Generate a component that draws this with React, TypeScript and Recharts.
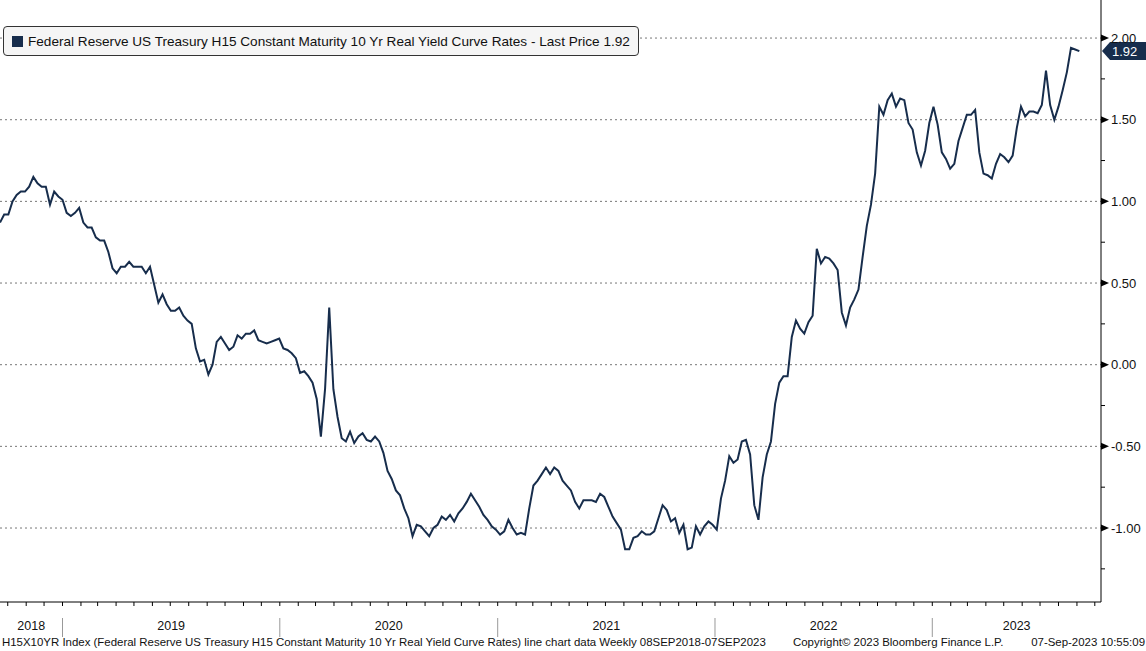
import { LineChart, Line, XAxis, YAxis, CartesianGrid, ReferenceLine, Legend } from "recharts";

// weekly observations, first point ~18 Sep 2018, last 07 Sep 2023
const START_DATE = Date.UTC(2018, 8, 18);
const WEEK_MS = 7 * 24 * 3600 * 1000;
const X_MAX = 264.2;

const yieldValues = [
  0.87, 0.92, 0.92, 1.0, 1.04, 1.06, 1.06, 1.09, 1.15, 1.11,
  1.09, 1.09, 0.98, 1.06, 1.03, 1.01, 0.93, 0.91, 0.93, 0.96,
  0.87, 0.84, 0.84, 0.78, 0.76, 0.76, 0.69, 0.59, 0.56, 0.6,
  0.6, 0.63, 0.6, 0.6, 0.6, 0.56, 0.6, 0.49, 0.38, 0.43,
  0.37, 0.33, 0.33, 0.35, 0.3, 0.27, 0.25, 0.1, 0.02, 0.03,
  -0.06, 0.0, 0.14, 0.17, 0.13, 0.09, 0.11, 0.18, 0.16, 0.19,
  0.19, 0.21, 0.15, 0.14, 0.13, 0.14, 0.15, 0.16, 0.1, 0.09,
  0.07, 0.04, -0.05, -0.04, -0.07, -0.11, -0.21, -0.44, -0.15, 0.35,
  -0.15, -0.32, -0.45, -0.47, -0.41, -0.48, -0.44, -0.42, -0.46, -0.47,
  -0.44, -0.47, -0.54, -0.65, -0.7, -0.77, -0.8, -0.88, -0.94, -1.05,
  -0.98, -0.99, -1.02, -1.05, -1.0, -0.98, -0.93, -0.95, -0.92, -0.96,
  -0.91, -0.88, -0.84, -0.79, -0.83, -0.87, -0.92, -0.95, -0.99, -1.01,
  -1.04, -1.02, -0.95, -1.0, -1.04, -1.03, -1.04, -0.88, -0.74, -0.71,
  -0.67, -0.63, -0.67, -0.63, -0.65, -0.71, -0.74, -0.77, -0.84, -0.88,
  -0.83, -0.83, -0.83, -0.84, -0.79, -0.81, -0.87, -0.93, -0.97, -1.01,
  -1.13, -1.13, -1.06, -1.05, -1.02, -1.04, -1.04, -1.02, -0.94, -0.86,
  -0.89, -0.96, -0.94, -1.03, -0.98, -1.13, -1.12, -0.99, -1.04, -0.99,
  -0.96, -0.98, -1.01, -0.82, -0.71, -0.56, -0.6, -0.58, -0.47, -0.46,
  -0.55, -0.86, -0.95, -0.69, -0.55, -0.47, -0.24, -0.11, -0.07, -0.07,
  0.17, 0.27, 0.22, 0.19, 0.26, 0.3, 0.71, 0.62, 0.66, 0.65,
  0.62, 0.58, 0.32, 0.24, 0.35, 0.4, 0.46, 0.66, 0.85, 0.98,
  1.17, 1.58, 1.53, 1.62, 1.66, 1.58, 1.63, 1.62, 1.48, 1.44,
  1.3, 1.22, 1.31, 1.48, 1.58, 1.47, 1.3, 1.26, 1.2, 1.23,
  1.37, 1.45, 1.53, 1.53, 1.56, 1.3, 1.17, 1.16, 1.14, 1.23,
  1.29, 1.27, 1.24, 1.28, 1.45, 1.58, 1.52, 1.55, 1.55, 1.54,
  1.59, 1.8, 1.59, 1.5, 1.58, 1.68, 1.79, 1.94, 1.93, 1.92,
];

const LAST_PRICE = 1.92;
const majorTicks = [-1, -0.5, 0, 0.5, 1, 1.5, 2];
const minorTicks = [-1.25, -0.75, -0.25, 0.25, 0.75, 1.25, 1.75];
const years = [2018, 2019, 2020, 2021, 2022, 2023];

const SERIES_NAME = "Federal Reserve US Treasury H15 Constant Maturity 10 Yr Real Yield Curve Rates";
const FOOTER_LEFT =
  "H15X10YR Index (Federal Reserve US Treasury H15 Constant Maturity 10 Yr Real Yield Curve Rates) line chart data  Weekly 08SEP2018-07SEP2023";
const FOOTER_MID = "Copyright\u00a9 2023 Bloomberg Finance L.P.";
const FOOTER_RIGHT = "07-Sep-2023 10:55:09";

const NAVY = "#172d4c";
const FONT = "'Liberation Sans', Arial, sans-serif";

const data = yieldValues.map((value, week) => ({ week, value }));

const toWeek = (y: number, m: number) => (Date.UTC(y, m, 1) - START_DATE) / WEEK_MS;

const monthTicks: number[] = [];
for (let y = 2018; y <= 2023; y++) {
  for (let m = 0; m < 12; m++) {
    const w = toWeek(y, m);
    if (w > 0 && w < X_MAX) monthTicks.push(w);
  }
}
const yearStarts = years.map((y) => Math.max(0, toWeek(y, 0)));
const yearEnds = years.map((y) => Math.min(X_MAX, toWeek(y + 1, 0)));
const yearMids = years.map((_, i) => (yearStarts[i] + yearEnds[i]) / 2);

const near = (a: number, b: number) => Math.abs(a - b) < 1e-6;

function XTick({ x, y, payload }: any) {
  const v = payload.value;
  const yi = yearMids.findIndex((m) => near(m, v));
  if (yi >= 0) {
    return (
      <text x={x} y={y + 28} textAnchor="middle" fontSize={12.5} fill="#111" fontFamily={FONT}>
        {years[yi]}
      </text>
    );
  }
  const isYearStart = yearStarts.some((s) => s > 0 && near(s, v));
  return (
    <g>
      <line x1={x} x2={x} y1={y} y2={y + 4} stroke="#000" />
      {isYearStart && <line x1={x} x2={x} y1={y + 16} y2={y + 35} stroke="#999" />}
    </g>
  );
}

function YTick({ x, y, payload }: any) {
  const v = payload.value;
  if (!majorTicks.some((t) => near(t, v))) {
    return <line x1={x} x2={x + 4} y1={y} y2={y} stroke="#000" />;
  }
  return (
    <g>
      <path d={`M${x} ${y - 3.5}L${x + 8} ${y}L${x} ${y + 3.5}Z`} fill="#000" />
      <text x={x + 10} y={y} dy="0.36em" fontSize={13} fill="#111" fontFamily={FONT}>
        {v.toFixed(2)}
      </text>
    </g>
  );
}

function PriceTag({ viewBox }: any) {
  const { x, y, width } = viewBox;
  const left = x + width;
  return (
    <g>
      <path d={`M${left + 1} ${y}L${left + 9} ${y - 9}H${left + 45}V${y + 9}H${left + 9}Z`} fill={NAVY} />
      <text x={left + 11} y={y} dy="0.36em" fontSize={13} fill="#fff" fontFamily={FONT}>
        {LAST_PRICE.toFixed(2)}
      </text>
    </g>
  );
}

function LegendBox() {
  return (
    <div
      style={{
        display: "flex",
        alignItems: "center",
        height: 28,
        padding: "0 8px",
        border: "1px solid #333",
        borderRadius: 4,
        background: "#f5f5f5",
        fontFamily: FONT,
        fontSize: 13.6,
        color: "#111",
        whiteSpace: "nowrap",
      }}
    >
      <span style={{ width: 11, height: 11, background: NAVY, marginRight: 5, display: "inline-block" }} />
      {`${SERIES_NAME} - Last Price ${LAST_PRICE.toFixed(2)}`}
    </div>
  );
}

export default function App() {
  return (
    <div style={{ position: "relative", width: 1146, height: 651, background: "#fff", fontFamily: FONT }}>
      <style>{"body{margin:0}"}</style>
      <LineChart width={1146} height={651} data={data} margin={{ top: 0, right: 0, bottom: 0, left: 0 }}>
        <CartesianGrid
          horizontal
          vertical={false}
          horizontalValues={majorTicks}
          stroke="#777"
          strokeDasharray="2 3"
        />
        <XAxis
          dataKey="week"
          type="number"
          domain={[0, X_MAX]}
          allowDataOverflow
          ticks={[...monthTicks, ...yearMids]}
          interval={0}
          tick={<XTick />}
          tickLine={false}
          tickSize={0}
          tickMargin={0}
          height={49}
          axisLine={{ stroke: "#000" }}
        />
        <YAxis
          orientation="right"
          type="number"
          domain={[-1.453, 2.233]}
          allowDataOverflow
          ticks={[...majorTicks, ...minorTicks].sort((a, b) => a - b)}
          interval={0}
          tick={<YTick />}
          tickLine={false}
          tickSize={0}
          tickMargin={0}
          width={45}
          axisLine={{ stroke: "#000" }}
        />
        <Legend
          layout="horizontal"
          verticalAlign="middle"
          align="center"
          content={<LegendBox />}
          wrapperStyle={{ top: 26, left: 3, width: "auto" }}
        />
        <ReferenceLine y={LAST_PRICE} stroke="none" label={<PriceTag />} />
        <Line
          type="linear"
          dataKey="value"
          stroke={NAVY}
          strokeWidth={2}
          dot={false}
          activeDot={false}
          isAnimationActive={false}
          legendType="square"
        />
      </LineChart>
      <div
        style={{
          position: "absolute",
          top: 636,
          left: 0,
          width: 1146,
          height: 15,
          fontSize: 11.45,
          color: "#111",
          fontFamily: FONT,
          whiteSpace: "nowrap",
        }}
      >
        <span style={{ position: "absolute", left: 2 }}>{FOOTER_LEFT}</span>
        <span style={{ position: "absolute", left: 793 }}>{FOOTER_MID}</span>
        <span style={{ position: "absolute", right: 1 }}>{FOOTER_RIGHT}</span>
      </div>
    </div>
  );
}
